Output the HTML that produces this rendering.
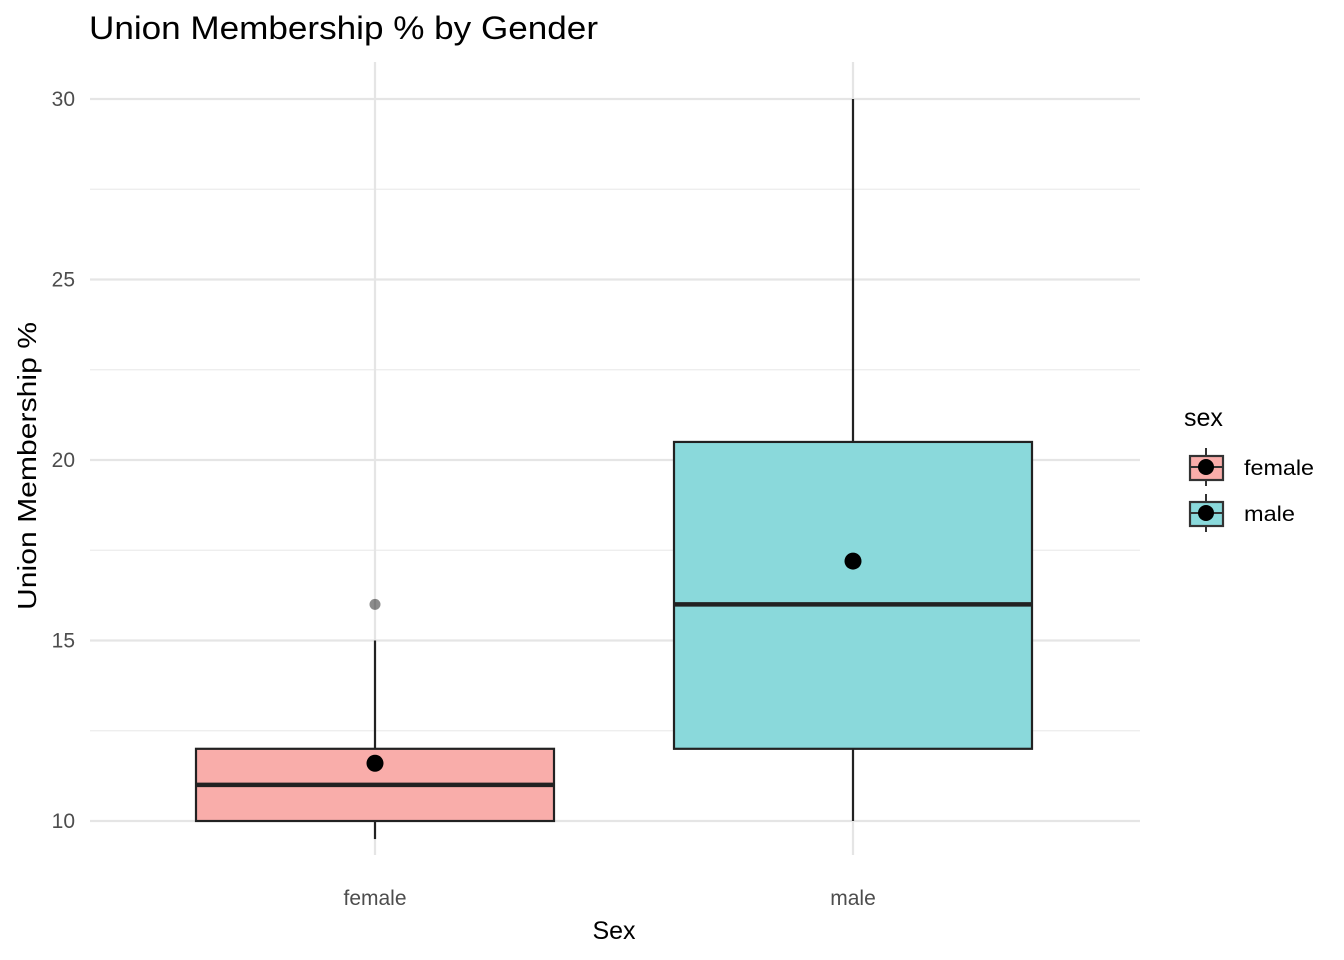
<!DOCTYPE html>
<html><head><meta charset="utf-8"><style>body{margin:0;background:#fff}svg{display:block;font-family:"Liberation Sans",sans-serif}</style></head>
<body>
<svg id="c" width="1344" height="960">
<text x="89" y="39" font-size="32" textLength="509" lengthAdjust="spacingAndGlyphs" fill="#000">Union Membership % by Gender</text>
<g id="grid"></g><g id="marks"></g>
<text x="614" y="939" font-size="25" text-anchor="middle">Sex</text>
<text transform="translate(36,466) rotate(-90)" font-size="26" text-anchor="middle" textLength="288" lengthAdjust="spacingAndGlyphs">Union Membership %</text>
<g>
<text x="1184" y="426" font-size="25">sex</text>
<g>
<line x1="1206" y1="448" x2="1206" y2="486" stroke="#333" stroke-width="2"/>
<rect x="1190" y="456" width="33" height="24" fill="#F9ADAA" stroke="#333" stroke-width="2.2"/>
<line x1="1190" y1="467" x2="1223" y2="467" stroke="#333" stroke-width="2"/>
<circle cx="1206" cy="467" r="8" fill="#000"/>
<text x="1244" y="475" font-size="21" textLength="70" lengthAdjust="spacingAndGlyphs">female</text></g>
<g>
<line x1="1206" y1="494" x2="1206" y2="532" stroke="#333" stroke-width="2"/>
<rect x="1190" y="502" width="33" height="24" fill="#8AD9DB" stroke="#333" stroke-width="2.2"/>
<line x1="1190" y1="513" x2="1223" y2="513" stroke="#333" stroke-width="2"/>
<circle cx="1206" cy="513" r="8" fill="#000"/>
<text x="1244" y="521" font-size="21" textLength="51" lengthAdjust="spacingAndGlyphs">male</text></g>
</g>
</svg>
<script>
const categories=["female","male"];
const lowerWhisker=[9.5,10];
const q1=[10,12];
const median=[11,16];
const q3=[12,20.5];
const upperWhisker=[15,30];
const means=[11.6,17.2];
const outliers=[[16],[]];
const yTicks=[10,15,20,25,30];
const colors=["#F9ADAA","#8AD9DB"];
const NS="http://www.w3.org/2000/svg";
const y=v=>821-(v-10)*36.1;
const x=i=>375+i*478;
function mk(t,a,p){const e=document.createElementNS(NS,t);for(const k in a)e.setAttribute(k,a[k]);p.appendChild(e);return e;}
const g=document.getElementById('grid'),m=document.getElementById('marks');
for(let v=12.5;v<30;v+=5){const l=mk('line',{x1:90,x2:1140,y1:y(v),y2:y(v),stroke:'#ebebeb','stroke-width':1.2},g);

}
yTicks.forEach(v=>{const l=mk('line',{x1:90,x2:1140,y1:y(v),y2:y(v),stroke:'#e5e5e5','stroke-width':2.2},g);


const t=mk('text',{x:75,y:y(v)+7,'font-size':21,fill:'#4d4d4d','text-anchor':'end'},g);t.textContent=v;

});
categories.forEach((c,i)=>{const l=mk('line',{x1:x(i),x2:x(i),y1:62,y2:855,stroke:'#e5e5e5','stroke-width':2.2},g);


const t=mk('text',{x:x(i),y:905,'font-size':21,fill:'#4d4d4d','text-anchor':'middle'},g);t.textContent=c;


const grp=mk('g',{},m);


mk('line',{x1:x(i),x2:x(i),y1:y(lowerWhisker[i]),y2:y(q1[i]),stroke:'#222','stroke-width':2.2},grp);
mk('line',{x1:x(i),x2:x(i),y1:y(q3[i]),y2:y(upperWhisker[i]),stroke:'#222','stroke-width':2.2},grp);
mk('rect',{x:x(i)-179,y:y(q3[i]),width:358,height:y(q1[i])-y(q3[i]),fill:colors[i],stroke:'#222','stroke-width':2.2},grp);
mk('line',{x1:x(i)-179,x2:x(i)+179,y1:y(median[i]),y2:y(median[i]),stroke:'#222','stroke-width':4.5},grp);
outliers[i].forEach(o=>{const p=mk('circle',{cx:x(i),cy:y(o),r:5.5,fill:'#000','fill-opacity':0.45},grp);

});
const mc=mk('circle',{cx:x(i),cy:y(means[i]),r:8.5,fill:'#000'},grp);

});
</script>
</body></html>
